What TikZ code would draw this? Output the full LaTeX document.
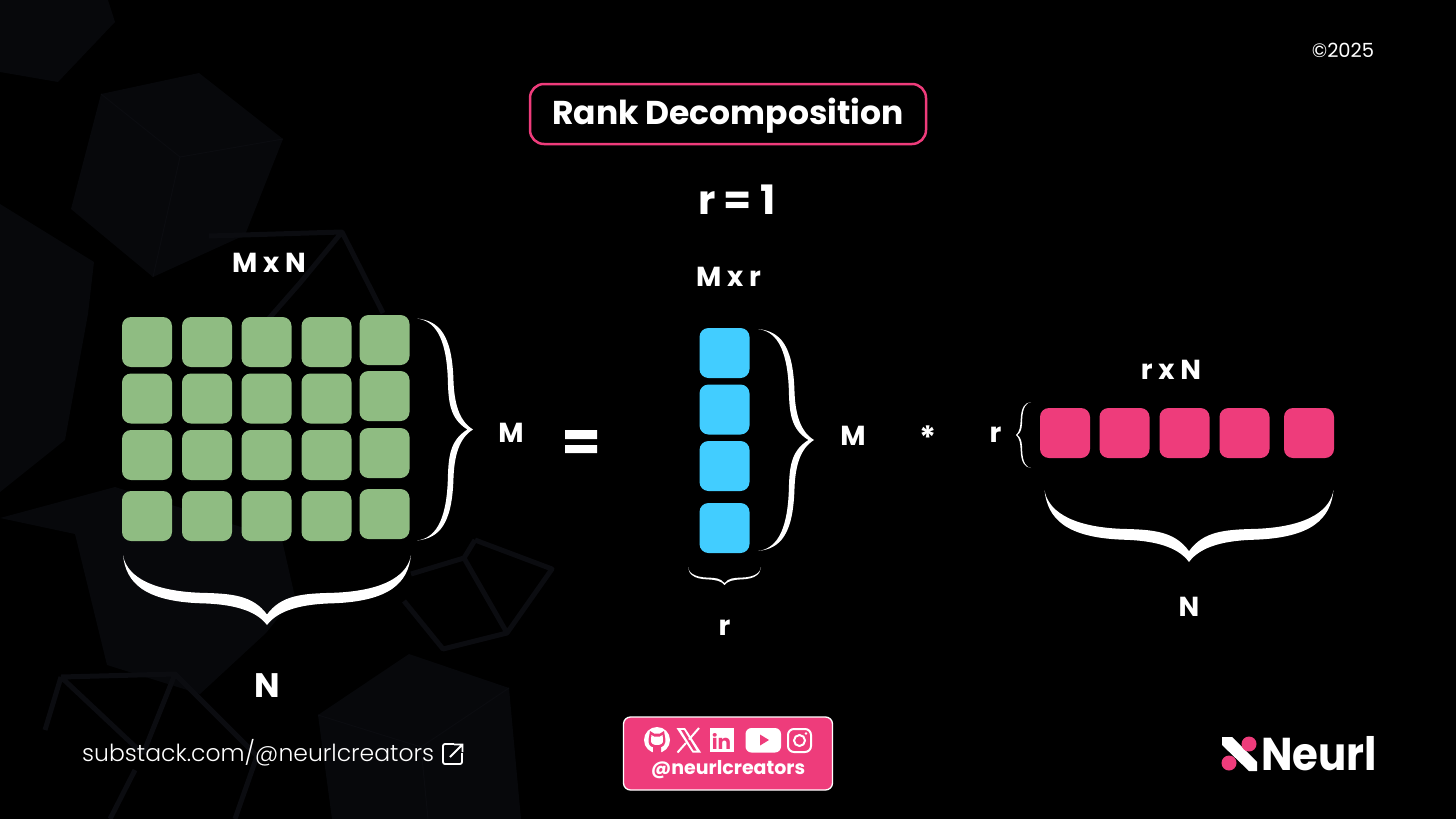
\documentclass[tikz,border=0pt]{standalone}
\usepackage{fontspec}
\setmainfont{Poppins}
\newfontfamily\poplight{Poppins}[UprightFont=* Light]
\definecolor{neurlpink}{HTML}{EE3C7B}
\definecolor{cellgreen}{HTML}{8FBC82}
\definecolor{cellblue}{HTML}{42CDFF}
\definecolor{cubefill}{HTML}{07080B}
\definecolor{cubeline}{HTML}{0B0C10}
\tikzset{
	cell/.style={minimum width=50pt, minimum height=50pt, inner sep=0pt, rounded corners=9pt},
	greencell/.style={cell, fill=cellgreen},
	bluecell/.style={cell, fill=cellblue},
	pinkcell/.style={cell, fill=neurlpink},
	lab/.style={text=white, inner sep=0pt, font=\fontsize{27.5}{27.5}\selectfont\bfseries},
	cubeedge/.style={draw=cubeline, line width=5pt, line join=round},
	pics/curly/.style 2 args={code={
		\fill[white] (-1,0) .. controls (-.98,{.4-#1}) and (-.85,{#2-.03-#1}) .. (-.46,{#2-#1})
			.. controls (-.25,{#2+.01-#1}) and (-.1,{#2+.03-#1}) .. (0,{1-#1})
			.. controls (.1,{#2+.03-#1}) and (.25,{#2+.01-#1}) .. (.46,{#2-#1})
			.. controls (.85,{#2-.03-#1}) and (.98,{.4-#1}) .. (1,0)
			.. controls (.98,.4) and (.85,{#2-.03}) .. (.46,#2)
			.. controls (.25,{#2+.01}) and (.08,{#2+.09}) .. (0,1)
			.. controls (-.08,{#2+.09}) and (-.25,{#2+.01}) .. (-.46,#2)
			.. controls (-.85,{#2-.03}) and (-.98,.4) .. (-1,0) -- cycle;
	}},
}
\begin{document}
\begin{tikzpicture}[x=1pt, y=-1pt]
	\useasboundingbox (0,0) rectangle (1456,819);
	\fill[black] (0,0) rectangle (1456,819);
	% cubes behind
	\fill[cubefill] (0,0) -- (108,0) -- (115,22) -- (58,82) -- (0,72) -- cycle;
	\fill[cubefill] (101,94) -- (199,73) -- (283,139) -- (245,235) -- (153,277) -- (71,209) -- cycle;
	\fill[cubefill] (0,204) -- (94,262) -- (88,314) -- (65,440) -- (0,492) -- cycle;
	\fill[cubefill] (0,518) -- (115,487) -- (282,540) -- (295,597) -- (266,633) -- (200,694) -- (107,665) -- (75,534) -- cycle;
	\fill[cubefill] (409,654) -- (509,688) -- (521,819) -- (332,819) -- (318,715) -- cycle;
	\draw[cubeline, line width=1pt] (101,94) -- (180,157) -- (283,139) (180,157) -- (153,277);
	\draw[cubeline, line width=1pt] (318,715) -- (421,747) -- (509,688) (421,747) -- (428,819);
	\draw[cubeedge] (209,236) -- (342,232) -- (383,313) (342,232) -- (300,283) -- (250,340);
	\draw[cubeedge] (475,540) -- (552,569) -- (507,633) -- (443,649) -- (404,601) (464,558) -- (411,574) (464,558) -- (507,633) (464,558) -- (475,540);
	\draw[cubeedge] (61,677) -- (175,674) -- (257,756) (61,677) -- (143,754) (175,674) -- (143,754) (61,677) -- (45,730);
	\draw[cubeedge] (135,770) -- (110,819) (257,756) -- (235,819);

	% title
	\node[draw=neurlpink, line width=2.5pt, rounded corners=14pt, minimum width=396pt, minimum height=60pt] (titlebox) at (728,114) {};
	\node[text=white, inner sep=0pt, font=\fontsize{33}{33}\selectfont\bfseries] (title) at (728,116) {Rank Decomposition};
	\node[text=white, inner sep=0pt, font=\fontsize{19.5}{19.5}\selectfont] (year) at (1343,50) {©2025};
	\node[lab, font=\fontsize{40.5}{40.5}\selectfont\bfseries] (rankval) at (737,200) {r = 1};

	% left matrix
	\foreach \x/\c in {147/a, 207/b, 266.5/c, 326.5/d}
		\foreach \y/\r in {342/1, 398.5/2, 455/3, 516/4}
			\node[greencell] (g\c\r) at (\x,\y) {};
	\foreach \y/\r in {340/1, 396/2, 453/3, 514/4}
		\node[greencell] (ge\r) at (384.5,\y) {};
	\node[lab] (mxn) at (269,263) {M x N};
	\pic[rotate=90, xscale=111, yscale=56] (mbrace) at (417,429.5) {curly={0.1}{0.65}};
	\pic[xscale=144, yscale=70] (nbrace) at (267,555) {curly={0.15}{0.69}};
	\node[lab] (mleft) at (511,433) {M};
	\node[lab, font=\fontsize{34}{34}\selectfont\bfseries] (nleft) at (267,686) {N};
	\fill[white] (565,430) rectangle (597,439) (565,445) rectangle (597,453);

	% middle column
	\foreach \y/\r in {353/1, 409.5/2, 466/3, 528/4}
		\node[bluecell] (b\r) at (724.5,\y) {};
	\node[lab] (mxr) at (728.5,277) {M x r};
	\pic[rotate=90, xscale=111, yscale=56] (mbracetwo) at (758,440) {curly={0.1}{0.65}};
	\pic[xscale=36.5, yscale=18] (rbrace) at (724.5,567) {curly={0.1}{0.69}};
	\node[lab] (mmid) at (853,436) {M};
	\node[lab] (rmid) at (724.5,628) {r};
	\node[lab, font=\fontsize{32}{32}\selectfont\bfseries] (times) at (928,438) {*};

	% right row
	\foreach \x/\c in {1065/a, 1124.5/b, 1184.5/c, 1244.5/d, 1309/e}
		\node[pinkcell] (p\c) at (\x,433) {};
	\node[lab] (rxn) at (1171,370) {r x N};
	\node[lab] (rright) at (995.5,435) {r};
	\pic[rotate=-90, xscale=33, yscale=15] (rbracetwo) at (1031,435) {curly={0.1}{0.69}};
	\pic[xscale=144.5, yscale=72] (nbracetwo) at (1189,490) {curly={0.15}{0.69}};
	\node[lab] (nright) at (1189,607) {N};

	% footer
	\node[anchor=west, text=white, inner sep=0pt, font=\poplight\fontsize{23.5}{24}\selectfont] (link) at (82,753) {substack.com/@neurlcreators};
	\draw[white, line width=1.8pt, rounded corners=2pt] (454,744) -- (443,744) -- (443,764) -- (462,764) -- (462,753);
	\draw[white, line width=1.8pt] (450,757) -- (462,745) (454,744.5) -- (462.5,744.5) -- (462.5,752);

	\node[fill=neurlpink, draw=white, line width=1.3pt, rounded corners=7pt, minimum width=209pt, minimum height=73pt] (badge) at (728,753.5) {};
	\node[text=white, inner sep=0pt, font=\fontsize{19}{19}\selectfont\bfseries] (handle) at (728,770) {@neurlcreators};
	% github
	\fill[white] (657,740) circle (13);
	\fill[neurlpink] (650,731) -- (654,733.5) -- (660,733.5) -- (664,731) -- (665,737) .. controls (667,745) and (662,747) .. (661,747) -- (661,753) -- (653,753) -- (653,747) .. controls (651,747) and (647,745) .. (649,737) -- cycle;
	\fill[white] (651.5,735) -- (654,736.5) -- (660,736.5) -- (662.5,735) -- (663,739) .. controls (664,744) and (660,745) .. (657,745) .. controls (654,745) and (650,744) .. (651,739) -- cycle;
	% x
	\fill[white] (676.5,728) -- (685,728) -- (701,752.5) -- (692.5,752.5) -- cycle;
	\fill[neurlpink] (681,730) -- (684,730) -- (696.5,750.5) -- (693.5,750.5) -- cycle;
	\draw[white, line width=2pt] (699,728) -- (689,739.5) (686,743) -- (677.5,752.5);
	% linkedin
	\fill[white] (710,728) rectangle (734,752);
	\node[text=neurlpink, inner sep=0pt, font=\fontsize{20}{20}\selectfont\bfseries] (intxt) at (721.5,741) {in};
	% youtube
	\fill[white, rounded corners=6pt] (745.5,728) rectangle (781,752.5);
	\fill[neurlpink] (760,734.5) -- (769,740) -- (760,745.5) -- cycle;
	% instagram
	\draw[white, line width=2pt, rounded corners=6pt] (788,729) rectangle (811,752);
	\draw[white, line width=2pt] (799.5,740.5) circle (5.5);
	\fill[white] (806,733.5) circle (1.4);

	% logo
	\fill[white] (1222,737) -- (1232,737) -- (1257,762) -- (1257,771) -- (1249,771) -- (1222,745) -- cycle;
	\fill[neurlpink] (1249,744) circle (7.5) (1229,763) circle (7.5);
	\node[anchor=west, xscale=.91, text=white, inner sep=0pt, font=\fontsize{46}{46}\selectfont\bfseries] (logo) at (1261,754) {Neurl};
\end{tikzpicture}
\end{document}
